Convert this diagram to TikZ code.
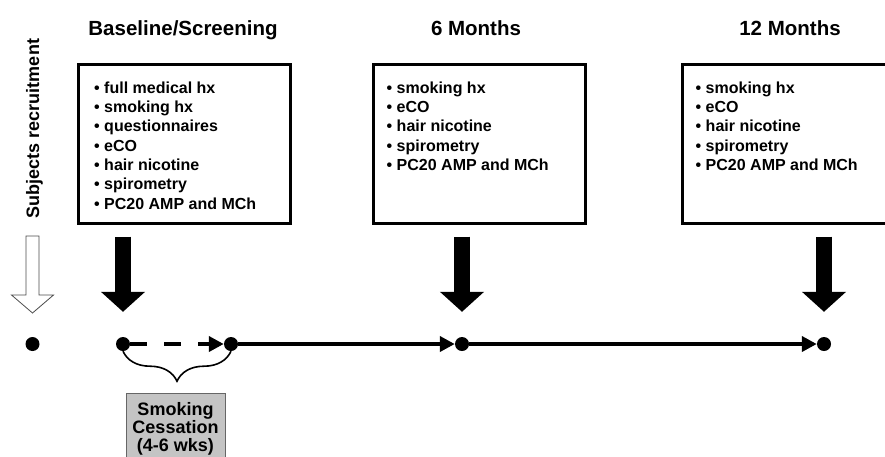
\documentclass[tikz,border=0pt]{standalone}
\usepackage{fontspec}
\setmainfont{Liberation Sans}
\usetikzlibrary{arrows.meta,positioning,decorations.pathreplacing}

\begin{document}
\begin{tikzpicture}[
  x=1pt, y=-1pt,
  visit/.style={draw, line width=3pt, minimum width=212pt, minimum height=159pt, inner sep=0pt},
  items/.style={anchor=north west, align=left, inner sep=0pt, font=\bfseries\fontsize{16}{19.3}\selectfont},
  period/.style={anchor=base, font=\bfseries\fontsize{20.5}{24}\selectfont},
  dot/.style={circle, fill=black, minimum size=14pt, inner sep=0pt},
  bigarrow/.style={line width=16pt, -{Triangle[width=43pt,length=20pt]}, shorten <=12pt, shorten >=25pt},
  tline/.style={line width=4pt, -{Triangle[width=15pt,length=15pt]}},
  hollow/.style={draw=black!70, line width=0.8pt, fill=white}
]
  \useasboundingbox (0,0) rectangle (885,456);

  % Visits
  \node[visit] (bl) at (184.5,143.5) {};
  \node[visit] (m6) at (479,143.5) {};
  \node[visit] (m12) at (788,143.5) {};

  \node[period] (tbl) at (183,35) {Baseline/Screening};
  \node[period] (tm6) at (476,35) {6 Months};
  \node[period] (tm12) at (790,35) {12 Months};

  \node[items] (blitems) at ([shift={(17,19)}]bl.north west)
    {• full medical hx\\• smoking hx\\• questionnaires\\• eCO\\• hair nicotine\\• spirometry\\• PC20 AMP and MCh};
  \node[items] (m6items) at ([shift={(15,19)}]m6.north west)
    {• smoking hx\\• eCO\\• hair nicotine\\• spirometry\\• PC20 AMP and MCh};
  \node[items] (m12items) at ([shift={(15,19)}]m12.north west)
    {• smoking hx\\• eCO\\• hair nicotine\\• spirometry\\• PC20 AMP and MCh};

  % Timeline
  \node[dot] (d1) at (32.5,344) {};
  \node[dot] (d2) at (123,344) {};
  \node[dot] (d3) at (231,344) {};
  \node[dot] (d4) at (462,344) {};
  \node[dot] (d5) at (824,344) {};

  \draw[tline, dash pattern=on 17pt off 17pt] (d2) -- (d3);
  \draw[tline] (d3) -- (d4);
  \draw[tline] (d4) -- (d5);

  % Arrows to the timeline
  \draw[bigarrow] (bl.south -| d2) -- (d2);
  \draw[bigarrow] (m6.south -| d4) -- (d4);
  \draw[bigarrow] (m12.south -| d5) -- (d5);

  % Recruitment
  \node[rotate=90, anchor=base, font=\bfseries\fontsize{18}{20}\selectfont] (subj) at (39,128.5) {Subjects recruitment};
  \draw[hollow] (d1) ++(0,-31) -- ++(-21,-18) -- ++(14.5,0) -- ++(0,-59) -- ++(13,0)
    -- ++(0,59) -- ++(14.5,0) -- cycle;

  % Cessation period
  \draw[line width=1.6pt, decorate, decoration={brace, amplitude=30pt, mirror}] (d2.south) -- (d3.south);
  \node[anchor=north, draw=black!60, fill=black!23, minimum width=99pt, inner xsep=0pt, inner ysep=9.5pt,
    align=center, font=\bfseries\fontsize{18}{18}\selectfont] (cess) at (175.5,393)
    {Smoking\\Cessation\\(4-6 wks)};

\end{tikzpicture}
\end{document}
